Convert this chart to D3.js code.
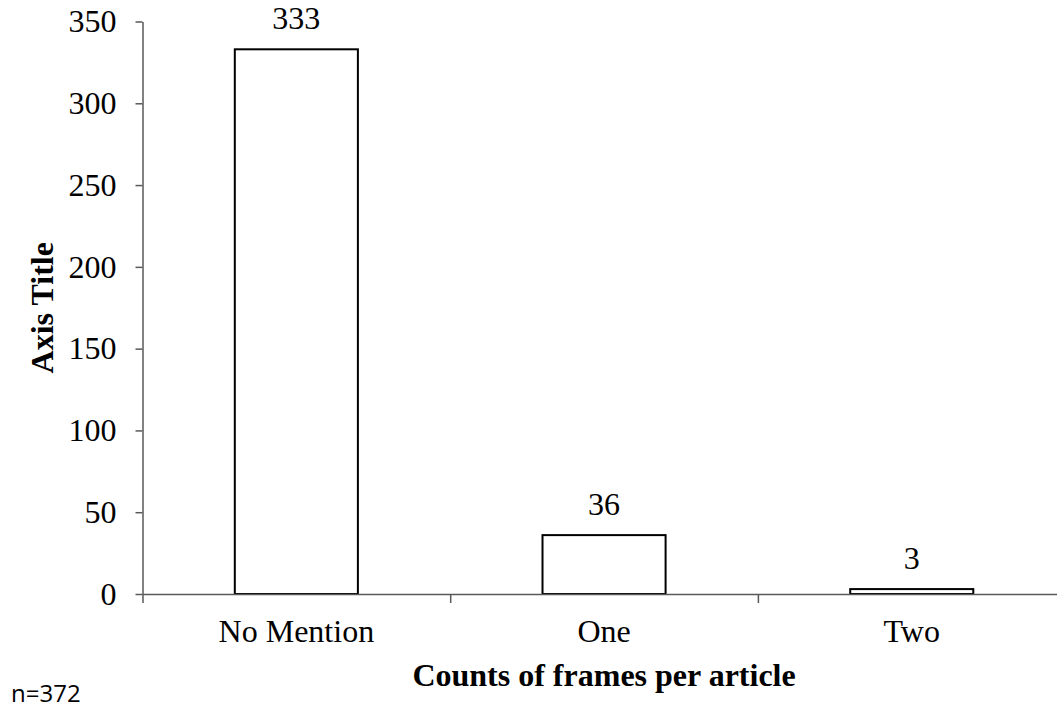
<!DOCTYPE html>
<html>
<head>
<meta charset="utf-8">
<script src="https://cdn.jsdelivr.net/npm/d3@7"></script>
<style>
  body { margin: 0; background: #fff; }
  svg { display: block; }
  .serif { font-family: "Liberation Serif", "Times New Roman", serif; fill: #000; }
</style>
</head>
<body>
<svg></svg>
<script>
const W = 1057, H = 709;
const svg = d3.select("svg").attr("width", W).attr("height", H);

// chart data
const categories = ["No Mention", "One", "Two"];
const counts = [333, 36, 3];
const yTicks = [0, 50, 100, 150, 200, 250, 300, 350];

const plot = { left: 142.5, right: 1065.6, top: 21.5, bottom: 594 };
const fs = 32;

const x = d3.scaleBand().domain(categories)
    .range([plot.left, plot.right]).paddingInner(0.6).paddingOuter(0.3);
const xEdge = d3.scaleLinear().domain([0, categories.length]).range([plot.left, plot.right]);
const y = d3.scaleLinear().domain([0, 350]).range([plot.bottom, plot.top]);

// y axis
const yAxis = svg.append("g")
    .attr("transform", `translate(${plot.left},0)`)
    .call(d3.axisLeft(y).tickValues(yTicks).tickSize(7).tickPadding(19).tickSizeOuter(0));
yAxis.select(".domain").attr("stroke", "#595959").attr("stroke-width", 1.5);
yAxis.selectAll(".tick line").attr("stroke", "#595959").attr("stroke-width", 1.5);
yAxis.selectAll("text").attr("class", "serif").style("font-size", fs + "px");

// bars
svg.append("g").selectAll("rect")
    .data(categories)
    .join("rect")
    .attr("x", d => x(d))
    .attr("width", x.bandwidth())
    .attr("y", (d, i) => y(counts[i]))
    .attr("height", (d, i) => y(0) - y(counts[i]))
    .attr("fill", "#fff")
    .attr("stroke", "#000")
    .attr("stroke-width", 2);

// x axis: boundary ticks
const xTicks = svg.append("g")
    .attr("transform", `translate(0,${plot.bottom})`)
    .call(d3.axisBottom(xEdge).tickValues(d3.range(categories.length + 1))
        .tickFormat("").tickSize(9).tickSizeOuter(0));
xTicks.select(".domain").attr("stroke", "#595959").attr("stroke-width", 1.5);
xTicks.selectAll(".tick line").attr("stroke", "#595959").attr("stroke-width", 1.5);

// x axis: category labels
const xLabels = svg.append("g")
    .attr("transform", `translate(0,${plot.bottom})`)
    .call(d3.axisBottom(x).tickSize(0).tickPadding(25));
xLabels.select(".domain").remove();
xLabels.selectAll("text").attr("class", "serif").style("font-size", fs + "px");

// value labels
svg.append("g").selectAll("text")
    .data(categories)
    .join("text")
    .attr("class", "serif")
    .attr("x", d => x(d) + x.bandwidth() / 2)
    .attr("y", (d, i) => y(counts[i]) - 20)
    .attr("text-anchor", "middle")
    .style("font-size", fs + "px")
    .text((d, i) => counts[i]);

// axis titles
svg.append("text")
    .attr("class", "serif")
    .attr("x", (plot.left + plot.right) / 2)
    .attr("y", 686)
    .attr("text-anchor", "middle")
    .style("font-size", fs + "px")
    .style("font-weight", "bold")
    .text("Counts of frames per article");

svg.append("text")
    .attr("class", "serif")
    .attr("transform", `translate(53,${(plot.top + plot.bottom) / 2}) rotate(-90)`)
    .attr("text-anchor", "middle")
    .style("font-size", fs + "px")
    .style("font-weight", "bold")
    .text("Axis Title");

// note
svg.append("text")
    .attr("x", 11)
    .attr("y", 702)
    .style("font-family", "'Open Sans', sans-serif")
    .style("font-size", "24px")
    .attr("fill", "#000")
    .text("n=372");
</script>
</body>
</html>
